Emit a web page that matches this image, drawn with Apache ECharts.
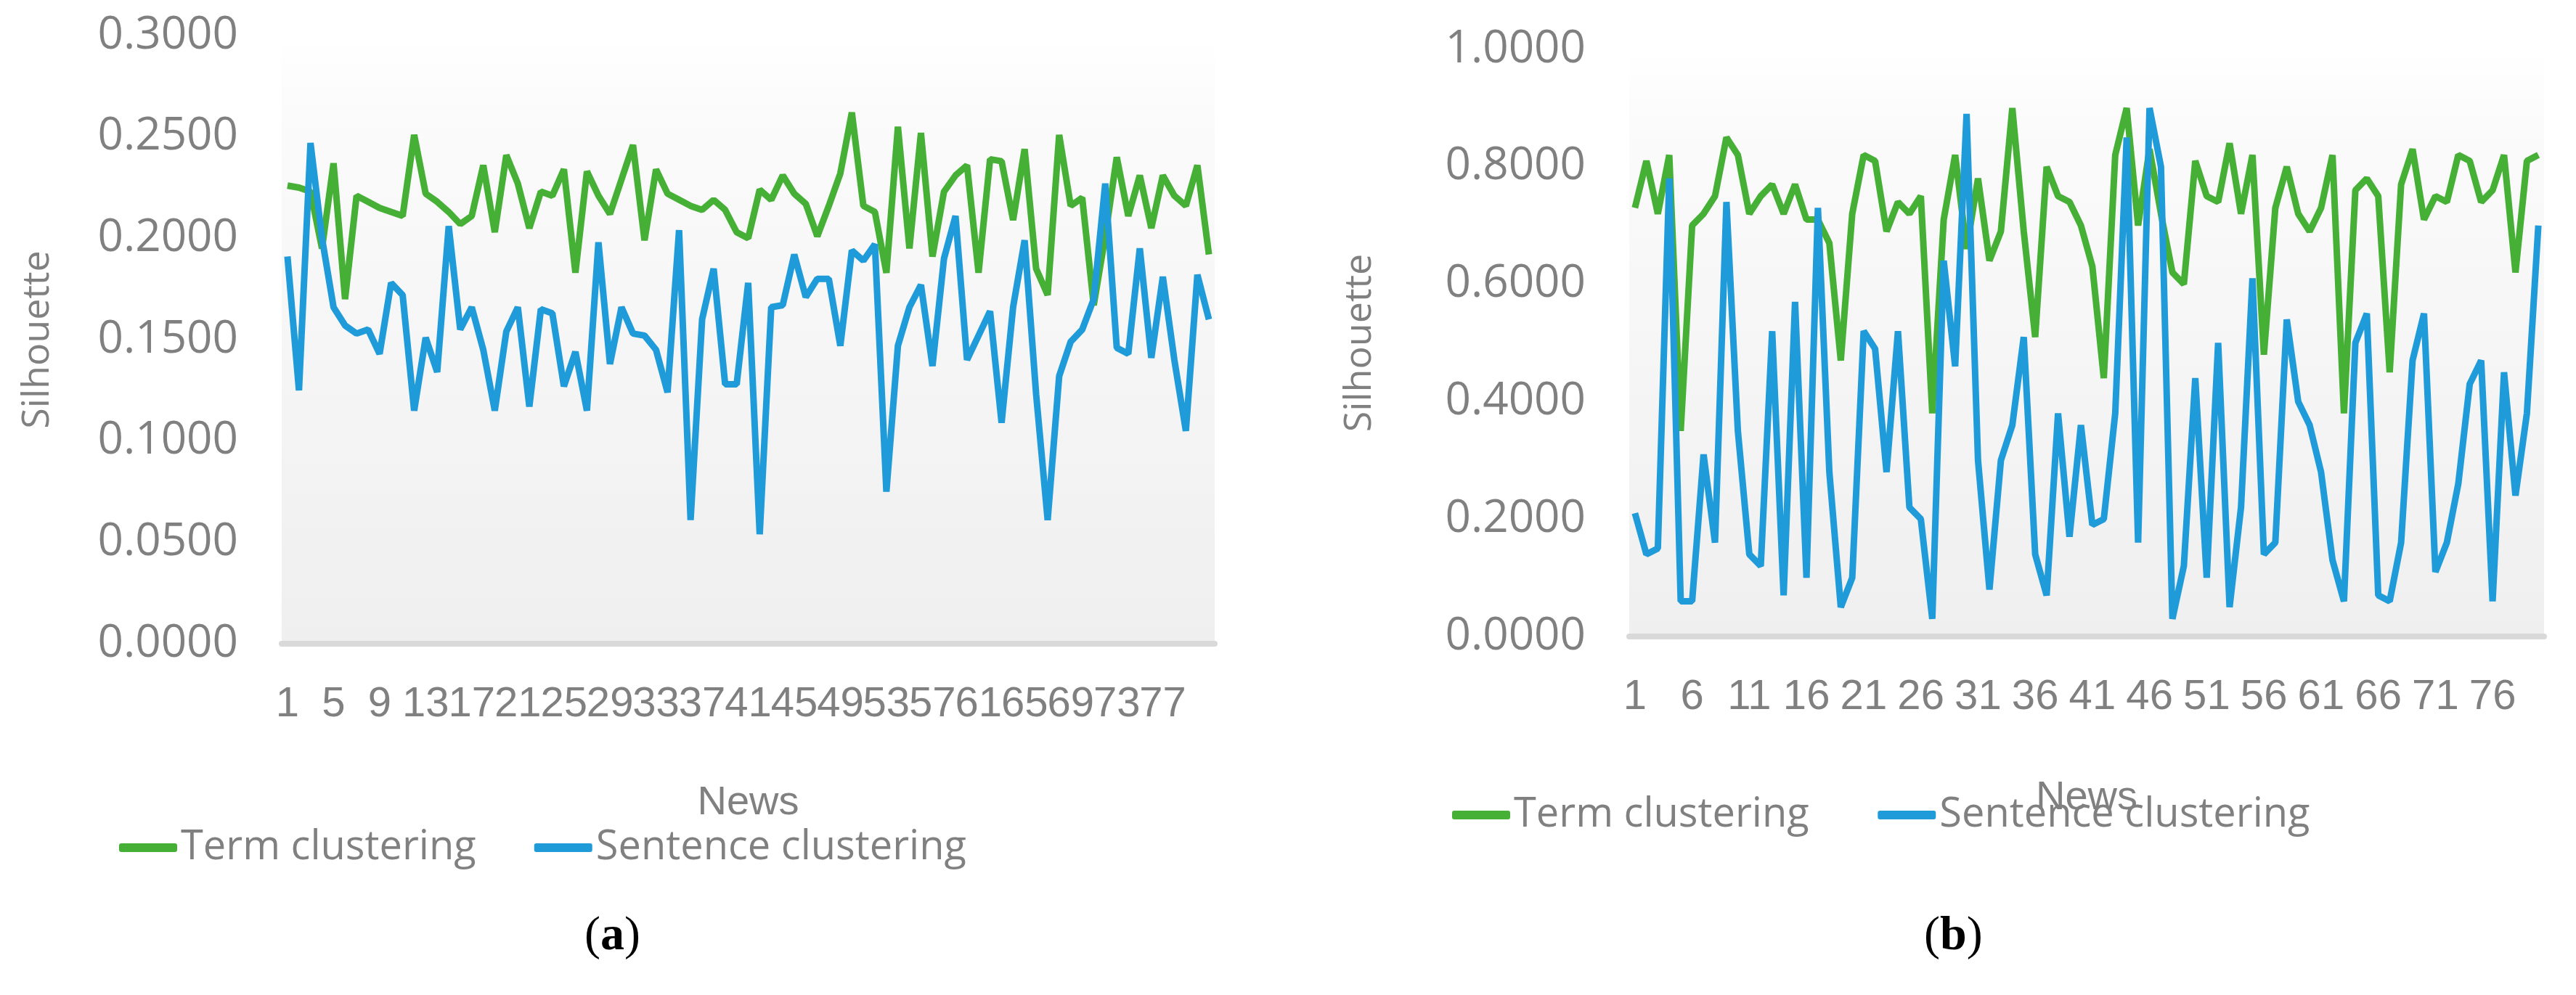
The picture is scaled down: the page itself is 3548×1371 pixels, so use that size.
<!DOCTYPE html>
<html><head><meta charset="utf-8">
<script src="https://cdn.jsdelivr.net/npm/echarts@6/dist/echarts.min.js"></script>
<style>html,body{margin:0;padding:0;background:#fff}#c{width:3548px;height:1371px}</style>
</head><body><div id="c"></div>
<script>
const termA = [0.226,0.225,0.223,0.195,0.237,0.170,0.221,0.218,0.215,0.213,0.211,0.251,0.222,0.218,0.213,0.207,0.211,0.236,0.203,0.241,0.227,0.205,0.223,0.221,0.234,0.183,0.233,0.221,0.212,0.229,0.246,0.199,0.234,0.222,0.219,0.216,0.214,0.219,0.214,0.203,0.200,0.224,0.219,0.231,0.222,0.217,0.201,0.216,0.232,0.262,0.216,0.213,0.183,0.255,0.195,0.252,0.191,0.223,0.231,0.236,0.183,0.239,0.238,0.209,0.244,0.185,0.172,0.251,0.216,0.220,0.167,0.201,0.240,0.211,0.231,0.205,0.231,0.221,0.216,0.236,0.192,0.238,0.235].slice(0,81);
const sentA = [0.191,0.125,0.247,0.200,0.166,0.157,0.153,0.155,0.143,0.178,0.172,0.115,0.151,0.134,0.206,0.155,0.166,0.145,0.115,0.154,0.166,0.117,0.165,0.163,0.127,0.144,0.115,0.198,0.138,0.166,0.153,0.152,0.145,0.124,0.204,0.061,0.160,0.185,0.128,0.128,0.178,0.054,0.166,0.167,0.192,0.171,0.180,0.180,0.147,0.194,0.189,0.197,0.075,0.147,0.166,0.177,0.137,0.190,0.211,0.140,0.152,0.164,0.109,0.166,0.199,0.123,0.061,0.132,0.149,0.155,0.170,0.227,0.146,0.143,0.195,0.141,0.181,0.140,0.105,0.182,0.160];
const termB = [0.73,0.81,0.72,0.82,0.35,0.70,0.72,0.75,0.85,0.82,0.72,0.75,0.77,0.72,0.77,0.71,0.71,0.67,0.47,0.72,0.82,0.81,0.69,0.74,0.72,0.75,0.38,0.71,0.82,0.66,0.78,0.64,0.69,0.90,0.69,0.51,0.80,0.75,0.74,0.70,0.63,0.44,0.82,0.90,0.70,0.83,0.72,0.62,0.60,0.81,0.75,0.74,0.84,0.72,0.82,0.48,0.73,0.80,0.72,0.69,0.73,0.82,0.38,0.76,0.78,0.75,0.45,0.77,0.83,0.71,0.75,0.74,0.82,0.81,0.74,0.76,0.82,0.62,0.81,0.82];
const sentB = [0.21,0.14,0.15,0.78,0.06,0.06,0.31,0.16,0.74,0.35,0.14,0.12,0.52,0.07,0.57,0.10,0.73,0.28,0.05,0.10,0.52,0.49,0.28,0.52,0.22,0.20,0.03,0.64,0.46,0.89,0.30,0.08,0.30,0.36,0.51,0.14,0.07,0.38,0.17,0.36,0.19,0.20,0.38,0.85,0.16,0.90,0.80,0.03,0.12,0.44,0.10,0.50,0.05,0.22,0.61,0.14,0.16,0.54,0.40,0.36,0.28,0.13,0.06,0.50,0.55,0.07,0.06,0.16,0.47,0.55,0.11,0.16,0.26,0.43,0.47,0.06,0.45,0.24,0.38,0.70];
const catsA = termA.map((_, i) => String(i + 1));
const catsB = termB.map((_, i) => String(i + 1));

const FONT = "'Open Sans','Liberation Sans',sans-serif";
const GRAY = '#808080';
const GREEN = '#45b035', BLUE = '#1f9bd9';
const bg = {type:'linear',x:0,y:0,x2:0,y2:1,colorStops:[{offset:0,color:'#ffffff'},{offset:0.12,color:'#fbfbfb'},{offset:1,color:'#efefef'}]};

function xAx(idx, cats, interval, gap){
  return {type:'category', gridIndex:idx, data:cats, boundaryGap:true,
    axisLine:{lineStyle:{color:'#d9d9d9', width:8}}, axisTick:{show:false},
    axisLabel:{interval:interval, color:GRAY, fontSize:58, fontFamily:"'Liberation Sans Narrow','Liberation Sans',sans-serif", margin:55, hideOverlap:false},
    name:'News', nameLocation:'middle', nameGap:gap, nameTextStyle:{color:GRAY, fontSize:56, fontFamily:"'Liberation Sans Narrow','Liberation Sans',sans-serif"}};
}
function yAx(idx, max, step, gap){
  return {type:'value', gridIndex:idx, min:0, max:max, interval:step,
    splitLine:{show:false}, axisLine:{show:false}, axisTick:{show:false},
    axisLabel:{formatter:v=>v.toFixed(4), color:GRAY, fontSize:62, fontFamily:FONT, margin:60},
    name:'Silhouette', nameLocation:'middle', nameGap:gap, nameRotate:90,
    nameTextStyle:{color:GRAY, fontSize:52, fontFamily:FONT}};
}
function ser(name, data, color, idx){
  return {type:'line', name:name, data:data, xAxisIndex:idx, yAxisIndex:idx, symbol:'none',
    lineStyle:{color:color, width:9}, itemStyle:{color:color}, animation:false};
}
const legendCommon = {itemWidth:80, itemHeight:12, itemGap:80, icon:'roundRect',
  textStyle:{color:GRAY, fontSize:56, fontFamily:FONT}};

const chart = echarts.init(document.getElementById('c'));
chart.setOption({
  backgroundColor:'#fff', animation:false,
  grid:[
    {left:388, top:49, width:1285, height:838, show:true, backgroundColor:bg, borderWidth:0},
    {left:2244, top:68, width:1260, height:809, show:true, backgroundColor:bg, borderWidth:0}
  ],
  xAxis:[xAx(0, catsA, 3, 192), xAx(1, catsB, 4, 195)],
  yAxis:[yAx(0, 0.3, 0.05, 310), yAx(1, 1.0, 0.2, 345)],
  legend:[
    Object.assign({}, legendCommon, {left:159, top:1135, data:['Term clustering','Sentence clustering']}),
    Object.assign({}, legendCommon, {left:1995, top:1090, data:['Term clustering ','Sentence clustering ']})
  ],
  series:[
    ser('Term clustering', termA, GREEN, 0),
    ser('Sentence clustering', sentA, BLUE, 0),
    ser('Term clustering ', termB, GREEN, 1),
    ser('Sentence clustering ', sentB, BLUE, 1)
  ],
  graphic:[
    {type:'text', left:805, top:1258, style:{text:'({b|a})', fontSize:66, fontFamily:'Liberation Serif', fill:'#000', rich:{b:{fontSize:66, fontFamily:'Liberation Serif', fontWeight:'bold', fill:'#000'}}}},
    {type:'text', left:2650, top:1258, style:{text:'({b|b})', fontSize:66, fontFamily:'Liberation Serif', fill:'#000', rich:{b:{fontSize:66, fontFamily:'Liberation Serif', fontWeight:'bold', fill:'#000'}}}}
  ]
});
</script></body></html>
